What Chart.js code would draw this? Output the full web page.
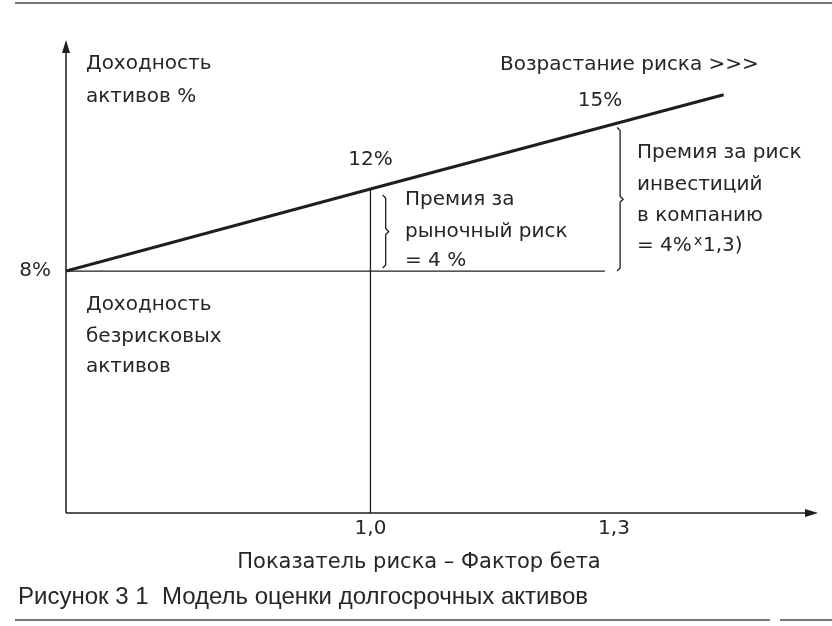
<!DOCTYPE html>
<html>
<head>
<meta charset="utf-8">
<script src="https://cdn.jsdelivr.net/npm/chart.js@4.4.1/dist/chart.umd.min.js"></script>
<style>
  html, body { margin: 0; padding: 0; background: #fff; }
  #wrap { width: 832px; height: 626px; position: relative; }
</style>
</head>
<body>
<div id="wrap"><canvas id="sml"></canvas></div>
<script>
// Schematic CAPM / SML chart (axis is not to scale, positions follow the figure)
const betaTickPos = [1.0, 1.8];
const betaTickLabels = ['1,0', '1,3'];
const smlBeta = [0, 1.0, 2.16];
const smlReturn = [8, 12, 16.6];
const riskFreeRate = 8;
const marketRate = 12;
const companyRate = 15;
const companyBetaPos = 1.8;

const INK = '#1e1e1e';
const FONT = '"DejaVu Sans", Verdana, sans-serif';
const CAPTION = '"Liberation Sans", Arial, sans-serif';

const smlPoints = smlBeta.map((b, i) => ({ x: b, y: smlReturn[i] }));

function text(ctx, str, x, y, size, align, font) {
    ctx.font = size + 'px ' + (font || FONT);
    ctx.textAlign = align || 'left';
    ctx.textBaseline = 'middle';
    ctx.fillText(str, x, y);
}

// curly bracket, opening to the left
function brace(ctx, x, yTop, yBot) {
    const mid = (yTop + yBot) / 2;
    ctx.beginPath();
    ctx.moveTo(x - 3, yTop);
    ctx.lineTo(x, yTop + 3);
    ctx.lineTo(x, mid - 3);
    ctx.lineTo(x + 3, mid);
    ctx.lineTo(x, mid + 3);
    ctx.lineTo(x, yBot - 3);
    ctx.lineTo(x - 3, yBot);
    ctx.stroke();
}

const decorPlugin = {
    id: 'decor',
    afterDatasetsDraw(chart) {
        const { ctx, chartArea: a, scales: { x, y } } = chart;
        ctx.save();
        ctx.strokeStyle = INK;
        ctx.fillStyle = INK;
        ctx.lineWidth = 1.5;

        // axes with arrows
        ctx.beginPath();
        ctx.moveTo(a.left, a.bottom);
        ctx.lineTo(a.left, a.top + 4);
        ctx.moveTo(a.left, a.bottom);
        ctx.lineTo(a.right - 4, a.bottom);
        ctx.stroke();
        ctx.beginPath();
        ctx.moveTo(a.left, a.top);
        ctx.lineTo(a.left - 4, a.top + 13);
        ctx.lineTo(a.left + 4, a.top + 13);
        ctx.closePath();
        ctx.fill();
        ctx.beginPath();
        ctx.moveTo(a.right, a.bottom);
        ctx.lineTo(a.right - 13, a.bottom - 4);
        ctx.lineTo(a.right - 13, a.bottom + 4);
        ctx.closePath();
        ctx.fill();

        // brackets
        ctx.lineWidth = 1.3;
        brace(ctx, x.getPixelForValue(1.05), y.getPixelForValue(marketRate) + 6, y.getPixelForValue(riskFreeRate) - 3);
        brace(ctx, x.getPixelForValue(companyBetaPos + 0.02), y.getPixelForValue(companyRate), y.getPixelForValue(riskFreeRate));

        // tick labels
        ctx.fillStyle = '#262626';
        betaTickPos.forEach((p, i) => {
            text(ctx, betaTickLabels[i], x.getPixelForValue(p), 529, 20, 'center');
        });
        text(ctx, riskFreeRate + '%', 51, y.getPixelForValue(riskFreeRate), 20, 'right');
        text(ctx, marketRate + '%', x.getPixelForValue(1.0), 160, 20, 'center');
        text(ctx, companyRate + '%', x.getPixelForValue(companyBetaPos) - 14, 101, 20, 'center');

        // annotations
        text(ctx, 'Доходность', 86, 64, 20);
        text(ctx, 'активов %', 86, 97, 20);
        text(ctx, 'Возрастание риска >>>', 500, 65, 20);
        text(ctx, 'Премия за', 405, 200, 20);
        text(ctx, 'рыночный риск', 405, 232, 20);
        text(ctx, '= 4 %', 405, 261, 20);
        text(ctx, 'Премия за риск', 637, 153, 20);
        text(ctx, 'инвестиций', 637, 185, 20);
        text(ctx, 'в компанию', 637, 216, 20);
        text(ctx, '= 4%', 637, 246, 20);
        text(ctx, 'x', 694, 241, 14);
        text(ctx, '1,3)', 703, 246, 20);
        text(ctx, 'Доходность', 86, 305, 20);
        text(ctx, 'безрисковых', 86, 337, 20);
        text(ctx, 'активов', 86, 367, 20);
        text(ctx, 'Показатель риска – Фактор бета', 419, 563, 21, 'center');
        text(ctx, 'Рисунок 3 1  Модель оценки долгосрочных активов', 18, 597, 24, 'left', CAPTION);

        // page rules
        ctx.strokeStyle = '#777';
        ctx.lineWidth = 2;
        ctx.beginPath();
        ctx.moveTo(15, 3);
        ctx.lineTo(832, 3);
        ctx.moveTo(15, 620);
        ctx.lineTo(770, 620);
        ctx.moveTo(780, 620);
        ctx.lineTo(832, 620);
        ctx.stroke();
        ctx.restore();
    }
};

new Chart(document.getElementById('sml'), {
    type: 'scatter',
    data: {
        datasets: [
            {
                label: 'SML',
                data: smlPoints,
                showLine: true,
                borderColor: INK,
                borderWidth: 3,
                pointRadius: 0
            },
            {
                label: 'Безрисковая доходность',
                data: [{ x: 0, y: riskFreeRate }, { x: 1.77, y: riskFreeRate }],
                showLine: true,
                borderColor: INK,
                borderWidth: 1.3,
                pointRadius: 0
            },
            {
                label: 'Бета = 1',
                data: [{ x: 1.0, y: -3.8 }, { x: 1.0, y: marketRate }],
                showLine: true,
                borderColor: INK,
                borderWidth: 1.3,
                pointRadius: 0
            }
        ]
    },
    options: {
        responsive: true,
        maintainAspectRatio: false,
        animation: false,
        layout: { padding: { left: 66, right: 14, top: 40, bottom: 113 } },
        scales: {
            x: { type: 'linear', display: false, min: 0, max: 2.47 },
            y: { type: 'linear', display: false, min: -3.8, max: 19.27 }
        },
        plugins: {
            legend: { display: false },
            tooltip: { enabled: false }
        }
    },
    plugins: [decorPlugin]
});
</script>
</body>
</html>
